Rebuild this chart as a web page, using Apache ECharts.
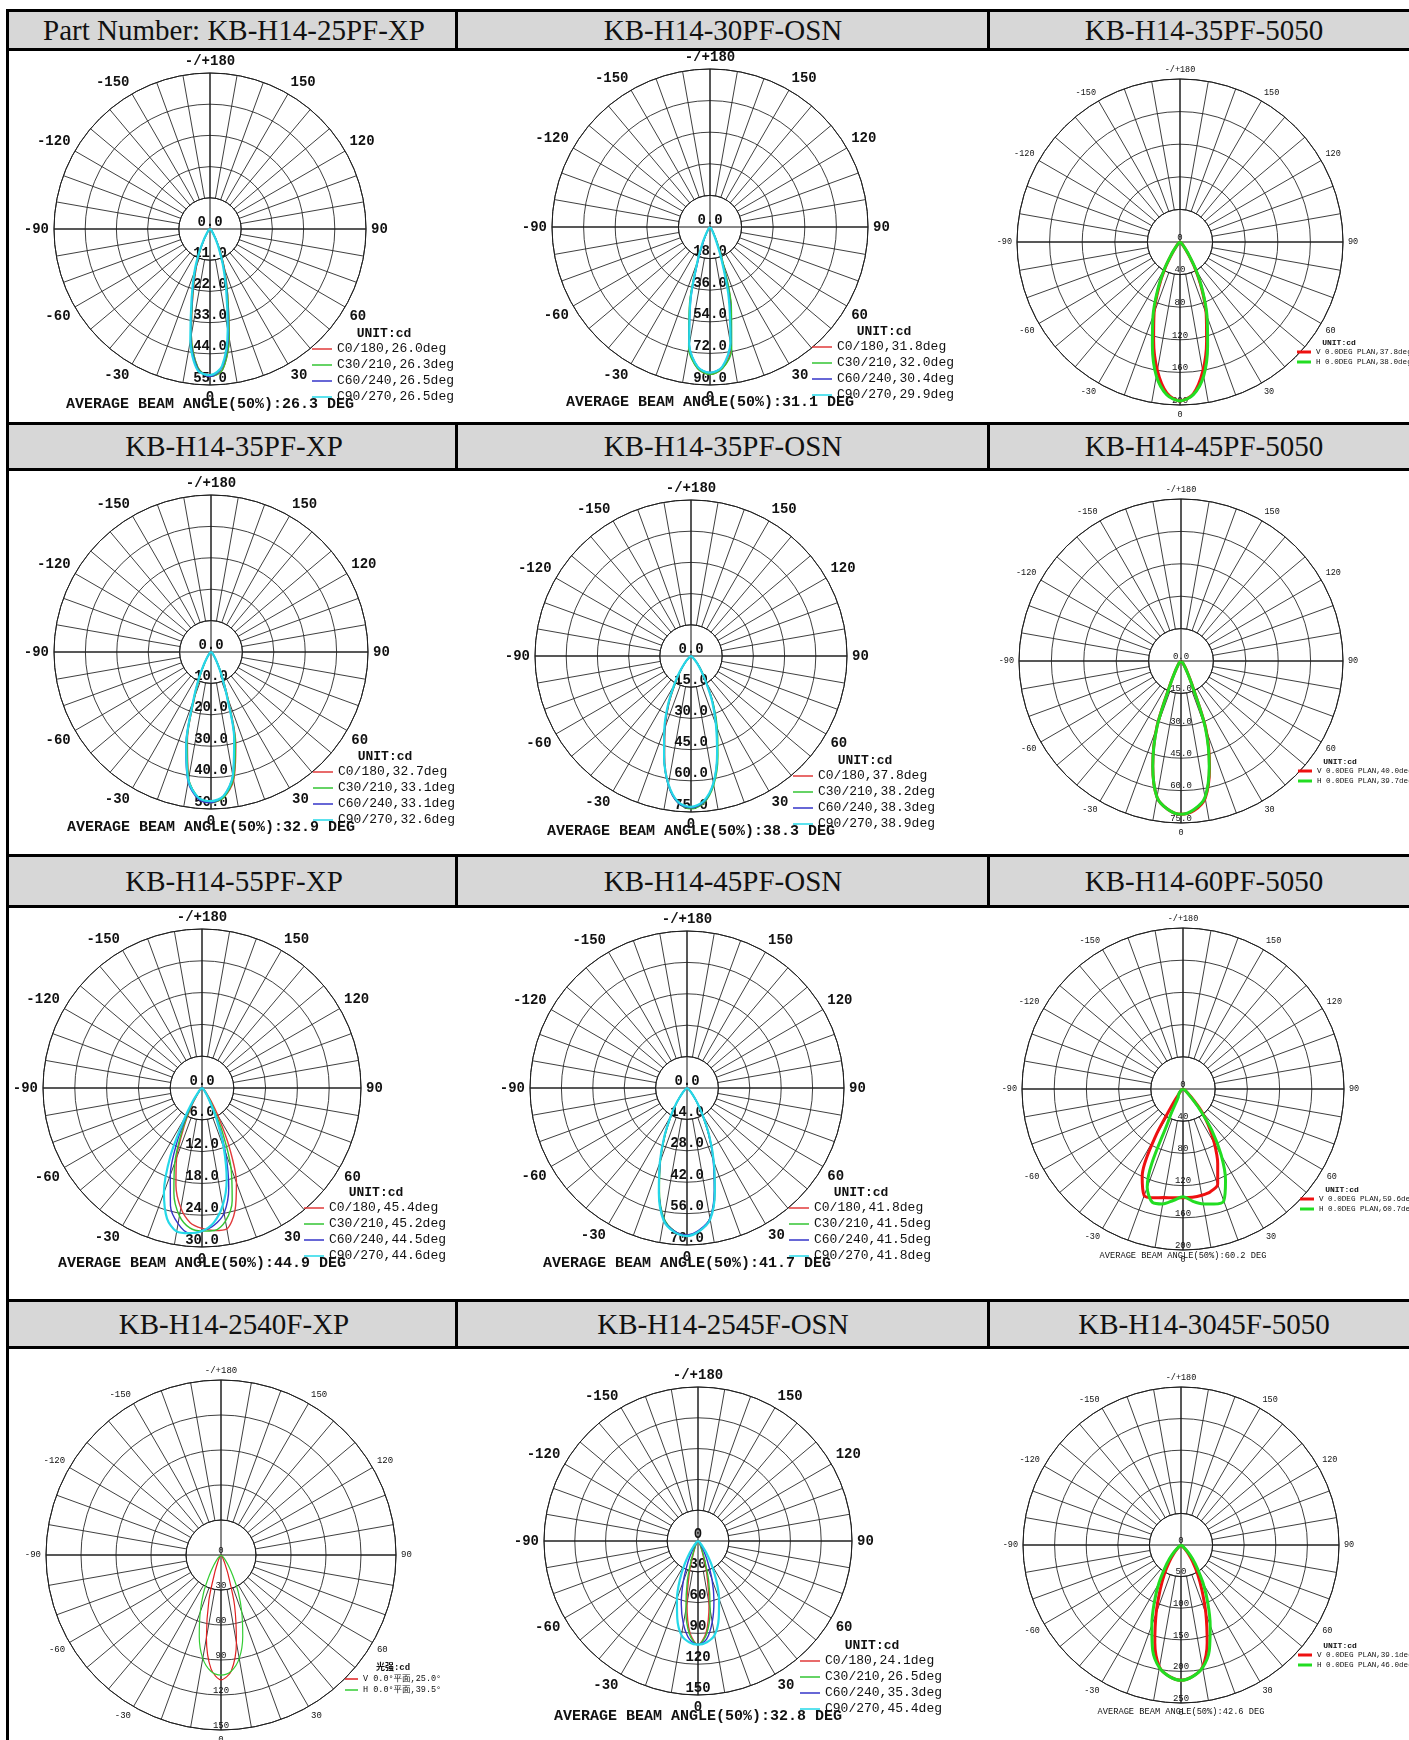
<!DOCTYPE html>
<html>
<head>
<meta charset="utf-8">
<script src="https://cdn.jsdelivr.net/npm/echarts@6/dist/echarts.min.js"></script>
<style>
  html, body { margin: 0; padding: 0; background: #fff; }
  #page { position: relative; width: 1409px; height: 1740px; overflow: hidden; }
  #chart { position: absolute; left: 0; top: 0; width: 1409px; height: 1740px; z-index: 1; }
  .band { position: absolute; left: 6px; width: 1420px; background: #d7d7d7;
          border-top: 3px solid #000; border-bottom: 3px solid #000; box-sizing: border-box; z-index: 2; }
  .sep { position: absolute; width: 3px; background: #000; z-index: 3; }
  .left-border { position: absolute; left: 6px; top: 9px; width: 3px; height: 1731px; background: #000; z-index: 3; }
  .head { position: absolute; transform: translateX(-50%); white-space: nowrap; z-index: 4;
          font-family: 'Liberation Serif', 'Times New Roman', serif; font-size: 29px; color: #111; }
</style>
</head>
<body>
<div id="page">
  <div id="chart"></div>
  <div class="left-border"></div>
  <div id="heads"></div>
</div>
<script>
// polar angle (gamma) in degrees, shared by every curve
const gammaDeg = [-90, -60, -45, -40, -35, -30, -25, -20, -15, -10, -5, 0, 5, 10, 15, 20, 25, 30, 35, 40, 45, 60, 90];

const partNumbers = [
  'Part Number: KB-H14-25PF-XP', 'KB-H14-30PF-OSN', 'KB-H14-35PF-5050',
  'KB-H14-35PF-XP', 'KB-H14-35PF-OSN', 'KB-H14-45PF-5050',
  'KB-H14-55PF-XP', 'KB-H14-45PF-OSN', 'KB-H14-60PF-5050',
  'KB-H14-2540F-XP', 'KB-H14-2545F-OSN', 'KB-H14-3045F-5050'
];

// ring spacing (cd) and label decimals
const ringSteps = [11, 18, 40, 10, 15, 15, 6, 14, 40, 30, 30, 50];
const ringDecimals = [1, 1, 0, 1, 1, 1, 1, 1, 0, 0, 0, 0];
const beamAverages = ['26.3', '31.1', null, '32.9', '38.3', null, '44.9', '41.7', '60.2', null, '32.8', '42.6'];
const unitLabels = ['UNIT:cd', 'UNIT:cd', 'UNIT:cd', 'UNIT:cd', 'UNIT:cd', 'UNIT:cd',
  'UNIT:cd', 'UNIT:cd', 'UNIT:cd', '光强:cd', 'UNIT:cd', 'UNIT:cd'];

// KB-H14-25PF-XP
const xp25C0 = [0, 0.3, 0.8, 1.2, 2, 4, 8, 14, 23, 38, 49, 52, 50, 39, 24, 15, 8, 4, 2, 1.2, 0.8, 0.3, 0];
const xp25C30 = [0, 0.3, 0.8, 1.2, 2, 4, 8, 14.5, 23.5, 38, 49, 52, 50, 39, 24, 14.5, 8, 4, 2, 1.2, 0.8, 0.3, 0];
const xp25C60 = [0, 0.3, 0.8, 1.2, 2, 4, 8.5, 15, 24, 39, 49.5, 52, 49, 37.5, 23, 14, 7.5, 4, 2, 1.2, 0.8, 0.3, 0];
const xp25C90 = [0, 0.3, 0.8, 1.3, 2.2, 4.5, 9, 16, 25, 40, 50, 51.5, 48.5, 36, 22, 13, 7, 3.5, 1.8, 1.1, 0.7, 0.3, 0];
const names25XP = ['C0/180,26.0deg', 'C30/210,26.3deg', 'C60/240,26.5deg', 'C90/270,26.5deg'];

// KB-H14-30PF-OSN
const osn30C0 = [0, 0.3, 0.8, 1.2, 2, 4, 9, 20, 44, 69, 81, 84, 81, 70, 46, 21, 9, 4, 2, 1.2, 0.8, 0.3, 0];
const osn30C30 = [0, 0.3, 0.8, 1.2, 2, 4, 9, 21, 45, 70, 81, 84, 81, 71, 47, 22, 10, 4, 2, 1.2, 0.8, 0.3, 0];
const osn30C60 = [0, 0.3, 0.8, 1.2, 2, 3.5, 8, 19, 42, 68, 80, 83, 80, 68, 43, 19, 8, 3.5, 1.8, 1.1, 0.8, 0.3, 0];
const osn30C90 = [0, 0.3, 0.8, 1.2, 2.2, 4.5, 10, 21, 43, 68, 80, 83, 80, 67, 41, 18, 7, 3, 1.6, 1, 0.7, 0.3, 0];
const names30OSN = ['C0/180,31.8deg', 'C30/210,32.0deg', 'C60/240,30.4deg', 'C90/270,29.9deg'];

// KB-H14-35PF-5050
const p35V = [0, 1, 3.5, 7, 16, 36, 62, 93, 125, 160, 186, 195, 187, 161, 126, 94, 63, 36, 16, 7, 3.5, 1, 0];
const p35H = [0, 1, 4, 8, 18, 38, 65, 97, 131, 167, 188, 195, 188, 167, 131, 97, 65, 38, 18, 8, 4, 1, 0];
const names35P = ['V 0.0DEG PLAN,37.8deg', 'H 0.0DEG PLAN,38.0deg'];

// KB-H14-35PF-XP
const xp35C0 = [0, 0.3, 0.8, 1.2, 2, 4, 8, 15, 29, 41, 46.5, 48, 46.5, 41.5, 30.5, 16, 8, 4, 2, 1.2, 0.8, 0.3, 0];
const xp35C30 = [0, 0.3, 0.8, 1.2, 2, 4, 8, 15.5, 29.5, 41, 46.5, 48, 46.5, 41, 30, 15.5, 8, 4, 2, 1.2, 0.8, 0.3, 0];
const xp35C60 = [0, 0.3, 0.8, 1.2, 2.2, 4.5, 9, 16.5, 31, 42, 47, 48, 46, 40, 28.5, 14.5, 7.5, 3.8, 2, 1.2, 0.8, 0.3, 0];
const xp35C90 = [0, 0.3, 0.8, 1.3, 2.3, 4.5, 9, 16.5, 30.5, 41.5, 46.5, 47.5, 46, 40, 28.5, 14.5, 7.5, 3.8, 2, 1.2, 0.8, 0.3, 0];
const names35XP = ['C0/180,32.7deg', 'C30/210,33.1deg', 'C60/240,33.1deg', 'C90/270,32.6deg'];

// KB-H14-35PF-OSN
const osn35C0 = [0, 0.5, 2.5, 5, 9, 15, 25, 36, 49, 62.5, 70.5, 73, 70.5, 62.5, 49, 36, 25, 15, 9, 5, 2.5, 0.5, 0];
const osn35C30 = [0, 0.5, 2.5, 5, 9, 15, 25.5, 37, 50, 63, 71, 73.5, 71, 63, 50, 37, 25.5, 15, 9, 5, 2.5, 0.5, 0];
const osn35C60 = [0, 0.5, 2.5, 5, 9.5, 16, 26, 37, 50, 63, 71, 73, 70.5, 62, 48.5, 35.5, 24.5, 14.5, 8.5, 5, 2.5, 0.5, 0];
const osn35C90 = [0, 0.6, 3, 5.5, 10, 16.5, 26.5, 37.5, 50, 62.5, 70.5, 72.5, 70, 62, 48.5, 35, 24, 14, 8, 4.5, 2.2, 0.5, 0];
const names35OSN = ['C0/180,37.8deg', 'C30/210,38.2deg', 'C60/240,38.3deg', 'C90/270,38.9deg'];

// KB-H14-45PF-5050
const p45V = [0, 0.3, 1, 1.6, 2.6, 5, 11.5, 33, 50.5, 64, 69, 71, 69.5, 64.5, 51, 34, 12, 5.5, 2.8, 1.6, 1, 0.3, 0];
const p45H = [0, 0.3, 1, 1.6, 2.6, 5, 11, 32.5, 50.5, 64, 69, 71, 69, 64, 50.5, 33, 11.5, 5, 2.6, 1.6, 1, 0.3, 0];
const names45P = ['V 0.0DEG PLAN,40.0deg', 'H 0.0DEG PLAN,39.7deg'];

// KB-H14-55PF-XP
const xp55C0 = [0, 0.2, 0.5, 0.7, 1.5, 4, 8, 14, 19, 23, 25.5, 26.5, 27, 27, 24, 19, 12, 6, 3, 1.5, 0.8, 0.2, 0];
const xp55C30 = [0, 0.2, 0.6, 0.8, 2, 4.5, 9, 15, 20.5, 24.5, 26.5, 27, 27, 25.5, 22, 16, 9, 4, 2, 1, 0.6, 0.2, 0];
const xp55C60 = [0, 0.2, 0.7, 1, 2.5, 5.5, 11, 17.5, 23, 26, 27.5, 27, 26, 24, 19.5, 13, 7, 3, 1.5, 0.8, 0.5, 0.2, 0];
const xp55C90 = [0, 0.2, 0.8, 1.2, 3, 6.5, 14, 21, 25.5, 27.5, 27.5, 27, 25.5, 22.5, 18, 12, 6.5, 3, 1.5, 0.8, 0.5, 0.2, 0];
const names55XP = ['C0/180,45.4deg', 'C30/210,45.2deg', 'C60/240,44.5deg', 'C90/270,44.6deg'];

// KB-H14-45PF-OSN
const osn45C0 = [0, 0.5, 2, 4, 8, 14, 23.5, 35, 48, 59.5, 64, 66, 64, 59.5, 48, 35, 23.5, 14, 8, 4, 2, 0.5, 0];
const osn45C30 = [0, 0.5, 2, 4, 8, 14, 23, 34.5, 47.5, 59, 64, 65.5, 64, 59, 47.5, 34.5, 23, 13.5, 7.5, 4, 2, 0.5, 0];
const osn45C60 = [0, 0.5, 2, 4, 8, 14.5, 24, 35, 48, 59.5, 64, 65.5, 63.5, 59, 47, 34, 23, 13.5, 7.5, 4, 2, 0.5, 0];
const osn45C90 = [0, 0.5, 2, 4, 8.5, 14.5, 24, 35.5, 48.5, 60, 64.5, 66, 64, 59.5, 48, 35, 23.5, 14, 8, 4, 2, 0.5, 0];
const names45OSN = ['C0/180,41.8deg', 'C30/210,41.5deg', 'C60/240,41.5deg', 'C90/270,41.8deg'];

// KB-H14-60PF-5050
const p60V = [0, 2, 5, 8, 20, 70, 120, 141, 140, 137, 135.5, 135, 135, 134, 132, 126, 102, 78, 55, 35, 15, 3, 0];
const p60H = [0, 2, 6, 8, 10, 12, 40, 130, 146, 145, 139, 134, 140, 145, 148, 148, 125, 95, 62, 30, 12, 3, 0];
const names60P = ['V 0.0DEG PLAN,59.6deg', 'H 0.0DEG PLAN,60.7deg'];

// KB-H14-2540F-XP
const xp2540V = [0, 0.3, 1, 1.5, 2, 3, 6, 15, 40, 72, 98, 107, 100, 76, 45, 18, 7, 3, 2, 1.5, 1, 0.3, 0];
const xp2540H = [0, 0.5, 3, 6, 11, 20, 35, 52, 72, 90, 100, 103, 100, 90, 72, 52, 35, 20, 11, 6, 3, 0.5, 0];
const names2540XP = ['V 0.0°平面,25.0°', 'H 0.0°平面,39.5°'];

// KB-H14-2545F-OSN
const osn2545C0 = [0, 0.3, 1, 1.5, 2.5, 4, 7, 14, 33, 62, 90, 101, 90, 62, 33, 14, 7, 4, 2.5, 1.5, 1, 0.3, 0];
const osn2545C30 = [0, 0.3, 1, 1.5, 2.5, 4, 8, 18, 40, 68, 92, 101, 92, 68, 40, 18, 8, 4, 2.5, 1.5, 1, 0.3, 0];
const osn2545C60 = [0, 0.5, 2, 3, 6, 12, 24, 42, 63, 82, 96, 101, 96, 80, 60, 40, 22, 11, 5, 3, 2, 0.5, 0];
const osn2545C90 = [0, 1, 3, 7, 14, 26, 42, 60, 78, 93, 99, 101, 99, 93, 78, 60, 42, 26, 14, 7, 3, 1, 0];
const names2545OSN = ['C0/180,24.1deg', 'C30/210,26.5deg', 'C60/240,35.3deg', 'C90/270,45.4deg'];

// KB-H14-3045F-5050
const p3045V = [0, 1, 8, 18, 32, 52, 78, 115, 160, 196, 209, 214, 209, 196, 160, 115, 78, 52, 32, 18, 8, 1, 0];
const p3045H = [0, 2, 15, 28, 45, 70, 100, 135, 173, 197, 209, 214, 209, 197, 173, 135, 100, 70, 45, 28, 15, 2, 0];
const names3045P = ['V 0.0DEG PLAN,39.1deg', 'H 0.0DEG PLAN,46.0deg'];

const curveSets = [
  [xp25C0, xp25C30, xp25C60, xp25C90],
  [osn30C0, osn30C30, osn30C60, osn30C90],
  [p35V, p35H],
  [xp35C0, xp35C30, xp35C60, xp35C90],
  [osn35C0, osn35C30, osn35C60, osn35C90],
  [p45V, p45H],
  [xp55C0, xp55C30, xp55C60, xp55C90],
  [osn45C0, osn45C30, osn45C60, osn45C90],
  [p60V, p60H],
  [xp2540V, xp2540H],
  [osn2545C0, osn2545C30, osn2545C60, osn2545C90],
  [p3045V, p3045H]
];
const nameSets = [names25XP, names30OSN, names35P, names35XP, names35OSN, names45P,
  names55XP, names45OSN, names60P, names2540XP, names2545OSN, names3045P];

// page layout (px): where each polar sits
const cells = [
  { cx: 210, cy: 229, r: 156, kind: 'c' },
  { cx: 710, cy: 227, r: 158, kind: 'c' },
  { cx: 1180, cy: 242, r: 163, kind: 'p' },
  { cx: 211, cy: 652, r: 157, kind: 'c' },
  { cx: 691, cy: 656, r: 156, kind: 'c' },
  { cx: 1181, cy: 661, r: 162, kind: 'p' },
  { cx: 202, cy: 1088, r: 159, kind: 'c' },
  { cx: 687, cy: 1088, r: 157, kind: 'c' },
  { cx: 1183, cy: 1089, r: 161, kind: 'p' },
  { cx: 221, cy: 1555, r: 175, kind: 'n' },
  { cx: 698, cy: 1541, r: 154, kind: 'c' },
  { cx: 1181, cy: 1545, r: 158, kind: 'p' }
];
const bands = [{ top: 9, h: 42 }, { top: 422, h: 49 }, { top: 854, h: 54 }, { top: 1299, h: 50 }];
const headCenters = [234, 723, 1204];

const mono = '"Liberation Mono", "Noto Sans CJK SC", monospace';
const kindStyle = {
  c: {
    colors: ['#e03a3a', '#33c433', '#3434c8', '#25d8e8'], widths: [1.4, 1.4, 1.4, 2.2],
    angleFont: 14, angleWeight: 'bold', radFont: 14, radWeight: 'bold',
    legend: { dx: 102, dy: 120, w: 20, h: 1.5, font: 13, lh: 16 },
    unit: { dx: 174, dy: 105, font: 'bold 13px ' + mono },
    avg: { dy: 175, font: 'bold 15px ' + mono }
  },
  p: {
    colors: ['#ee1111', '#22dd22'], widths: [3, 3],
    angleFont: 8.5, angleWeight: 'normal', radFont: 9, radWeight: 'normal',
    legend: { dx: 117, dy: 110, w: 14, h: 3, font: 7.6, lh: 10 },
    unit: { dx: 159, dy: 101, font: 'bold 8px ' + mono },
    avg: { dy: 167, font: '8.7px ' + mono }
  },
  n: {
    colors: ['#e02020', '#33cc33'], widths: [1.2, 1.2],
    angleFont: 9, angleWeight: 'normal', radFont: 9, radWeight: 'normal',
    legend: { dx: 124, dy: 124, w: 13, h: 1.5, font: 8.5, lh: 11 },
    unit: { dx: 172, dy: 113, font: 'bold 9px ' + mono },
    avg: { dy: 175, font: '9px ' + mono }
  }
};

// header bands
const heads = document.getElementById('heads');
bands.forEach((b, row) => {
  const band = document.createElement('div');
  band.className = 'band';
  band.style.top = b.top + 'px';
  band.style.height = b.h + 'px';
  heads.appendChild(band);
  [455, 987].forEach(x => {
    const s = document.createElement('div');
    s.className = 'sep';
    s.style.left = x + 'px';
    s.style.top = b.top + 'px';
    s.style.height = b.h + 'px';
    heads.appendChild(s);
  });
  headCenters.forEach((hx, col) => {
    const t = document.createElement('div');
    t.className = 'head';
    t.textContent = partNumbers[row * 3 + col];
    t.style.left = hx + 'px';
    t.style.top = b.top + 'px';
    t.style.lineHeight = b.h + 'px';
    heads.appendChild(t);
  });
});

function angleLabel (v) {
  if (v % 30 !== 0 || v === 360) return '';
  if (v === 180) return '-/+180';
  return String(v > 180 ? v - 360 : v);
}

const option = {
  animation: false,
  polar: [],
  angleAxis: [],
  radiusAxis: [],
  legend: [],
  series: [],
  graphic: []
}

cells.forEach((cell, k) => {
  const st = kindStyle[cell.kind];
  const step = ringSteps[k];
  const dec = ringDecimals[k];

  // grid polar: spokes start at the inner ring
  option.polar.push({ center: [cell.cx, cell.cy], radius: [cell.r / 5, cell.r] });
  // data polar
  option.polar.push({ center: [cell.cx, cell.cy], radius: [0, cell.r] });

  option.angleAxis.push({
    polarIndex: 2 * k, type: 'value', min: 0, max: 360, interval: 10,
    startAngle: 270, clockwise: false,
    axisLine: { show: true, lineStyle: { color: '#1e1e1e', width: 1 } },
    axisTick: { show: false },
    axisLabel: {
      show: true, margin: 5, formatter: angleLabel, color: '#111',
      fontFamily: mono, fontSize: st.angleFont, fontWeight: st.angleWeight
    },
    splitLine: { show: true, lineStyle: { color: '#2a2a2a', width: 0.9 } }
  });
  option.radiusAxis.push({
    polarIndex: 2 * k, type: 'value', min: step, max: 5 * step, interval: step,
    axisLine: { show: false }, axisTick: { show: false }, axisLabel: { show: false },
    splitLine: { show: true, lineStyle: { color: '#2a2a2a', width: 0.9 } }
  });

  option.angleAxis.push({
    polarIndex: 2 * k + 1, type: 'value', min: 0, max: 360, interval: 90,
    startAngle: 270, clockwise: false,
    axisLine: { show: false }, axisTick: { show: false }, axisLabel: { show: false },
    splitLine: { show: true, lineStyle: { color: '#111', width: 1 } }
  });
  option.radiusAxis.push({
    polarIndex: 2 * k + 1, type: 'value', min: 0, max: 5 * step, interval: step,
    axisLine: { show: false }, axisTick: { show: false }, splitLine: { show: false },
    axisLabel: {
      show: true, margin: 0, align: 'center', verticalAlign: 'bottom',
      formatter: v => v.toFixed(dec), color: '#111',
      fontFamily: mono, fontSize: st.radFont, fontWeight: st.radWeight
    }
  });

  curveSets[k].forEach((vals, j) => {
    option.series.push({
      type: 'line',
      coordinateSystem: 'polar',
      polarIndex: 2 * k + 1,
      name: nameSets[k][j],
      color: st.colors[j],
      symbol: 'none',
      smooth: 0.3,
      silent: true,
      z: 3 + j,
      lineStyle: { width: st.widths[j], color: st.colors[j] },
      data: gammaDeg.map((g, i) => [vals[i], (g + 360) % 360])
    });
  });

  option.legend.push({
    data: nameSets[k],
    orient: 'vertical',
    left: cell.cx + st.legend.dx,
    top: cell.cy + st.legend.dy - st.legend.lh / 2,
    padding: 0,
    itemGap: 0,
    itemWidth: st.legend.w,
    itemHeight: st.legend.h,
    icon: 'rect',
    selectedMode: false,
    textStyle: { fontFamily: mono, fontSize: st.legend.font, lineHeight: st.legend.lh, color: '#111' }
  });

  option.graphic.push({
    type: 'text', x: cell.cx + st.unit.dx, y: cell.cy + st.unit.dy, silent: true, z: 20,
    style: { text: unitLabels[k], font: st.unit.font, fill: '#111', align: 'center', verticalAlign: 'middle', textAlign: 'center', textVerticalAlign: 'middle' }
  });
  if (beamAverages[k]) {
    option.graphic.push({
      type: 'text', x: cell.cx, y: cell.cy + st.avg.dy, silent: true, z: 20,
      style: { text: 'AVERAGE BEAM ANGLE(50%):' + beamAverages[k] + ' DEG', font: st.avg.font, fill: '#111', align: 'center', verticalAlign: 'middle', textAlign: 'center', textVerticalAlign: 'middle' }
    });
  }
});

const chart = echarts.init(document.getElementById('chart'));
chart.setOption(option);
</script>
</body>
</html>
